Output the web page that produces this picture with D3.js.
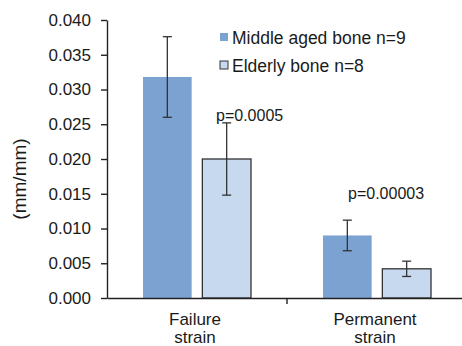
<!DOCTYPE html>
<html>
<head>
<meta charset="utf-8">
<script src="https://cdn.jsdelivr.net/npm/d3@7"></script>
<style>
  body { margin: 0; background: #fff; }
  text { font-family: Arial, "Liberation Sans", sans-serif; fill: #1a1a1a; }
</style>
</head>
<body>
<div id="chart"></div>
<script>
'use strict';

var categories = ['Failure strain', 'Permanent strain'];
var series = ['Middle aged bone n=9', 'Elderly bone n=8'];
var means = [[0.0318, 0.0200], [0.0090, 0.0042]];
var errors = [[0.0058, 0.0052], [0.0022, 0.0011]];
var pLabels = ['p=0.0005', 'p=0.00003'];
var yTicks = [0, 0.005, 0.010, 0.015, 0.020, 0.025, 0.030, 0.035, 0.040];

var W = 462, H = 346;
var colors = ['#7ca2d2', '#c7d9ef'];
var strokes = ['none', '#333'];

var svg = d3.select('#chart').append('svg')
  .attr('width', W)
  .attr('height', H);

var y = d3.scaleLinear().domain([0, 0.04]).range([298, 20]);
var x0 = d3.scaleBand().domain(categories).range([107, 467]);
var x1 = d3.scaleBand().domain(series).range([36, 144]).paddingInner(0.18);

// y axis
var yAxis = svg.append('g')
  .attr('transform', 'translate(107,0)')
  .call(d3.axisLeft(y).tickValues(yTicks).tickFormat(d3.format('.3f'))
    .tickSize(6).tickSizeOuter(0).tickPadding(10));
yAxis.selectAll('text').style('font-size', '17px');
yAxis.selectAll('line, path').attr('stroke', '#222').attr('stroke-width', 1.4);

svg.append('text')
  .attr('transform', 'translate(26,' + ((y(0) + y(0.04)) / 2 + 20) + ') rotate(-90)')
  .attr('text-anchor', 'middle')
  .style('font-size', '19px')
  .text('(mm/mm)');

// bars
var groups = svg.selectAll('.grp')
  .data(categories)
  .enter().append('g')
  .attr('class', 'grp')
  .attr('transform', function(d) { return 'translate(' + x0(d) + ',0)'; });

groups.each(function(cat, ci) {
  var g = d3.select(this);
  series.forEach(function(s, si) {
    var v = means[ci][si], e = errors[ci][si];
    var bx = x1(s), bw = x1.bandwidth();
    g.append('rect')
      .attr('x', bx)
      .attr('y', y(v))
      .attr('width', bw)
      .attr('height', y(0) - y(v))
      .attr('fill', colors[si])
      .attr('stroke', strokes[si])
      .attr('stroke-width', 1.3);
    var cx = bx + bw / 2;
    g.append('line')
      .attr('x1', cx).attr('x2', cx)
      .attr('y1', y(v + e)).attr('y2', y(v - e))
      .attr('stroke', '#333').attr('stroke-width', 1.3);
    [v + e, v - e].forEach(function(t) {
      g.append('line')
        .attr('x1', cx - 4.5).attr('x2', cx + 4.5)
        .attr('y1', y(t)).attr('y2', y(t))
        .attr('stroke', '#333').attr('stroke-width', 1.3);
    });
  });
});

// x axis
var xAxis = svg.append('g')
  .attr('transform', 'translate(0,' + y(0) + ')')
  .call(d3.axisBottom(x0).tickSize(0).tickSizeOuter(0).tickFormat(''));
xAxis.select('.domain').attr('stroke', '#222').attr('stroke-width', 1.4);
xAxis.append('line')
  .attr('x1', x0(categories[1])).attr('x2', x0(categories[1]))
  .attr('y1', 0).attr('y2', 6)
  .attr('stroke', '#222').attr('stroke-width', 1.4);

groups.each(function(cat) {
  var words = cat.split(' ');
  var t = d3.select(this).append('text')
    .attr('text-anchor', 'middle')
    .style('font-size', '17px');
  words.forEach(function(w, i) {
    t.append('tspan')
      .attr('x', x0.bandwidth() / 2 - 2)
      .attr('y', 325 + i * 18)
      .text(w);
  });
});

// p values
svg.append('text')
  .attr('x', 216).attr('y', 121)
  .style('font-size', '16px')
  .text(pLabels[0]);
svg.append('text')
  .attr('x', 348).attr('y', 199)
  .style('font-size', '16px')
  .text(pLabels[1]);

// legend
var legend = svg.append('g').attr('transform', 'translate(220,0)');
series.forEach(function(s, i) {
  var ly = 44 + i * 28;
  legend.append('rect')
    .attr('x', 0).attr('y', ly - 11)
    .attr('width', 8).attr('height', 8)
    .attr('fill', colors[i])
    .attr('stroke', strokes[i])
    .attr('stroke-width', 1);
  legend.append('text')
    .attr('x', 12).attr('y', ly)
    .style('font-size', '17.5px')
    .text(s);
});
</script>
</body>
</html>
